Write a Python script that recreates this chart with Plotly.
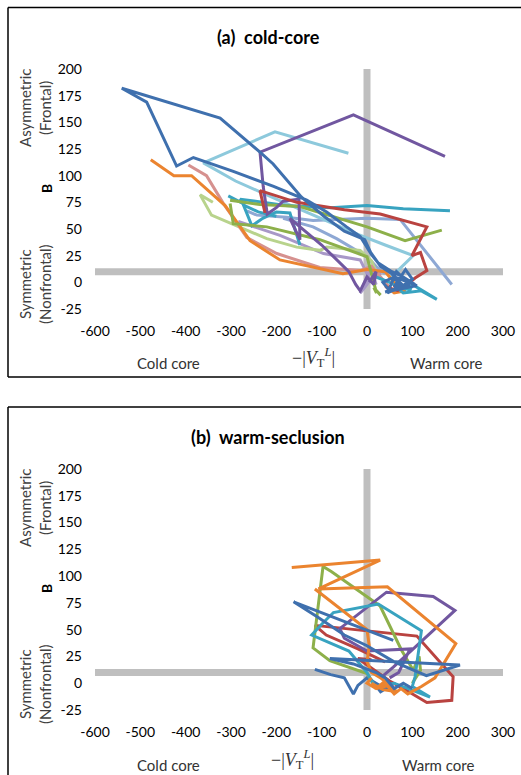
import plotly.graph_objects as go

OFF = 0  # body margin is removed in the page (see write_html below)
W, H = 521 - 2 * OFF, 775 - 2 * OFF

# ---------------- data: panel (a) cold-core ----------------
A_BLUE_X = [106, 80, 55, 40, 25, 10, -15, -45, -89, -133, -206, -295, -383, -420, -486, -541,
            -324, -236, -207, -145, -95, -50, -5, 8, 30, 55, 75, 50, 35, 60, 80, 45, 65, 90,
            70, 100, 85, 60, 95, 40, 110, 55]
A_BLUE_Y = [-2, 5, 10, 14, 18, 26, 43, 52, 66, 77, 90, 104, 117, 109, 169, 182,
            154, 122, 111, 80, 62, 48, 40, 28, 15, 8, -5, -8, 0, 5, -3, -10, 10, 0,
            -6, 3, 12, -4, -2, -9, -3, 6]
A_PURPLE_X = [172, -30, -236, -229, -220, -200, -185, -150, -148, -170, -100, -40, -25, -15, 0, 15, 20, 5]
A_PURPLE_Y = [118, 157, 122, 90, 64, 70, 76, 78, 40, 60, 35, 10, -2, -8, 5, -2, 10, 0]
A_LTBLUE_X = [-41, -203, -361, -290, -200, -100, -20, 40, 102, 68, 50]
A_LTBLUE_Y = [121, 141, 112, 95, 78, 60, 45, 35, 25, 11, 5]
A_RED_X = [-225, -236, -155, -50, 29, 132, 99, 118, 132, 106, 80, 60, 70, 40]
A_RED_Y = [65, 86, 75, 68, 64, 52, 25, 28, 11, 4, -5, -3, -8, -4]
A_TEAL1_X = [183, 80, 0, -80, -180, -280, -270, -240, -200]
A_TEAL1_Y = [67, 69, 72, 70, 72, 78, 72, 66, 62]
A_TEAL2_X = [-306, -274, -254, -230, -200, -170, -148]
A_TEAL2_Y = [81, 74, 53, 60, 66, 65, 35]
A_TEAL3_X = [20, 50, 70, 95, 100, 154, 120, 80, 60]
A_TEAL3_Y = [5, 0, -5, -7, -2, -16, -8, -10, -3]
A_GREEN1_X = [-302, -236, -148, 0, 84, 165]
A_GREEN1_Y = [77, 73, 71, 52, 39, 49]
A_GREEN2_X = [-302, -295, -221, -104, 0, 21, 15, 30]
A_GREEN2_Y = [74, 55, 52, 40, 24, -10, -5, -12]
A_ORANGE_X = [-477, -426, -387, -313, -258, -192, -53, 0, 40, 70, 85, 60, 40]
A_ORANGE_Y = [115, 100, 100, 72, 39, 21, 8, 12, 10, -5, -8, -10, -3]
A_PINK_X = [-394, -354, -317, -265, -199, -104, -15, 10, 30, 50, 45]
A_PINK_Y = [110, 100, 74, 42, 27, 14, 11, 15, 5, -5, -8]
A_LTGREEN_X = [-340, -368, -343, -299, -221, -155, -104, -89, -15, 10, 20]
A_LTGREEN_Y = [75, 82, 63, 55, 41, 33, 30, 33, 30, 20, 10]
A_LAVENDER_X = [-284, -192, -96, -15, 7, -15, 0, 20, 10, 30, -5, 15]
A_LAVENDER_Y = [57, 44, 27, 21, 2, -10, 5, -2, 12, 8, 0, 18]
A_PERI1_X = [-265, -243, -177, -119, 0, 73, 187]
A_PERI1_Y = [67, 63, 61, 58, 60, 59, -2]
A_PERI2_X = [-185, -119, -67, 0, 20, 40]
A_PERI2_Y = [60, 52, 41, 24, 15, 8]

# ---------------- data: panel (b) warm-seclusion ----------------
B_ORANGE1_X = [-166, 29, -107, 45, 196, 150, 120, 90, 75, 60, 40, 20, 0, 10]
B_ORANGE1_Y = [108, 115, 88, 90, 37, 5, -3, -10, -5, -10, 0, -5, 0, 5]
B_ORANGE2_X = [-115, 0, 5, 0, 10, 30, 50, 20, 40, 66, 35, 10]
B_ORANGE2_Y = [88, 50, 35, 20, 10, 5, -2, -5, 2, -8, -6, 0]
B_GREEN_X = [20, 0, -82, -119, -97, -78, 29, 76, 102, 115, 118, 100]
B_GREEN_Y = [-5, 9, 21, 33, 109, 104, 72, 31, 12, 25, 12, 0]
B_PURPLE_X = [30, 58, 102, 194, 146, 43, -60, -50, 0, 95, 70, 50]
B_PURPLE_Y = [5, 15, 32, 68, 81, 85, 51, 42, 30, 32, 10, 5]
B_RED_X = [40, -20, -90, -115, 110, 190, 187, 132, 80, 50, -20, 10]
B_RED_Y = [20, 32, 45, 54, 44, 6, -16, -18, -5, 2, 23, 22]
B_TEAL_X = [20, 0, -40, -122, -100, -74, 25, 120, 106, 100, 139, 60, 20]
B_TEAL_Y = [-5, 10, 30, 45, 55, 66, 74, 49, 6, -3, -13, 0, -3]
B_BLUE1_X = [58, -162, -110, -50, 0, 60, 131, 205, -82, -30, 20, 40, 60, 80, 100]
B_BLUE1_Y = [40, 76, 62, 45, 35, 20, 7, 17, 23, 18, 10, 5, -5, 0, -5]
B_BLUE2_X = [-115, -80, -50, -40, -30, -20, 0, 20, 40, 60, 30, 10]
B_BLUE2_Y = [13, 8, 5, -3, -10, -2, 5, 0, -5, 0, -8, 3]

X_TICKS = [-600, -500, -400, -300, -200, -100, 0, 100, 200, 300]
X_TICK_TEXT = ["-600", "-500", "-400", "-300", "-200", "-100", "0", "100", "200", "300"]
Y_TICKS = [-25, 0, 25, 50, 75, 100, 125, 150, 175, 200]
Y_TICK_TEXT = ["-25", "0", "25", "50", "75", "100", "125", "150", "175", "200"]
X_RANGE = [-600, 300]
Y_RANGE = [-25, 200]
REF_X = 0    # grey vertical divider
REF_Y = 10   # grey horizontal divider

C = {
    "blue": "#3F70AE", "red": "#B94340", "green": "#8DB04A", "purple": "#7157A0",
    "teal": "#38A3C0", "orange": "#EB842F", "ltblue": "#8DC9DC", "pink": "#D6918F",
    "ltgreen": "#B8D38C", "lavender": "#A898C8", "peri": "#8EA8D4",
}

A_TRACKS = [
    (A_PERI1_X, A_PERI1_Y, "peri"), (A_PERI2_X, A_PERI2_Y, "peri"),
    (A_LAVENDER_X, A_LAVENDER_Y, "lavender"), (A_LTGREEN_X, A_LTGREEN_Y, "ltgreen"),
    (A_PINK_X, A_PINK_Y, "pink"), (A_LTBLUE_X, A_LTBLUE_Y, "ltblue"),
    (A_ORANGE_X, A_ORANGE_Y, "orange"), (A_TEAL1_X, A_TEAL1_Y, "teal"),
    (A_TEAL2_X, A_TEAL2_Y, "teal"), (A_TEAL3_X, A_TEAL3_Y, "teal"),
    (A_GREEN1_X, A_GREEN1_Y, "green"), (A_GREEN2_X, A_GREEN2_Y, "green"),
    (A_PURPLE_X, A_PURPLE_Y, "purple"), (A_RED_X, A_RED_Y, "red"),
    (A_BLUE_X, A_BLUE_Y, "blue"),
]
B_TRACKS = [
    (B_BLUE2_X, B_BLUE2_Y, "blue"), (B_RED_X, B_RED_Y, "red"),
    (B_GREEN_X, B_GREEN_Y, "green"), (B_PURPLE_X, B_PURPLE_Y, "purple"),
    (B_TEAL_X, B_TEAL_Y, "teal"), (B_ORANGE2_X, B_ORANGE2_Y, "orange"),
    (B_ORANGE1_X, B_ORANGE1_Y, "orange"), (B_BLUE1_X, B_BLUE1_Y, "blue"),
]

fig = go.Figure()
for xs, ys, c in A_TRACKS:
    fig.add_trace(go.Scatter(x=xs, y=ys, mode="lines", xaxis="x", yaxis="y",
                             line=dict(color=C[c], width=3), showlegend=False, hoverinfo="skip"))
for xs, ys, c in B_TRACKS:
    fig.add_trace(go.Scatter(x=xs, y=ys, mode="lines", xaxis="x2", yaxis="y2",
                             line=dict(color=C[c], width=3), showlegend=False, hoverinfo="skip"))

# convert window pixel positions to paper fractions
def px(x):
    return (x - OFF) / W

def py(y):
    return 1 - (y - OFF) / H

FONT = "Lato, 'Open Sans', sans-serif"
ax_common = dict(showgrid=False, zeroline=False, showline=False, ticks="", automargin=False,
                 ticklabeloverflow="allow",
                 tickfont=dict(family=FONT, size=14, color="#000"), fixedrange=True)

fig.update_layout(
    width=W, height=H, autosize=False,
    margin=dict(l=0, r=0, t=0, b=0, pad=0),
    paper_bgcolor="white", plot_bgcolor="white",
    xaxis=dict(domain=[px(95), px(503)], range=X_RANGE, tickvals=X_TICKS, ticktext=X_TICK_TEXT,
               anchor="y", ticklabelstandoff=12, **ax_common),
    yaxis=dict(domain=[py(309), py(69)], range=Y_RANGE, tickvals=Y_TICKS, ticktext=Y_TICK_TEXT,
               anchor="x", ticklabelstandoff=12, **ax_common),
    xaxis2=dict(domain=[px(95), px(503)], range=X_RANGE, tickvals=X_TICKS, ticktext=X_TICK_TEXT,
                anchor="y2", ticklabelstandoff=12, **ax_common),
    yaxis2=dict(domain=[py(710), py(469)], range=Y_RANGE, tickvals=Y_TICKS, ticktext=Y_TICK_TEXT,
                anchor="x2", ticklabelstandoff=12, **ax_common),
)

shapes = []
GREY = "#BFBFBF"
for xr, yr in (("x", "y"), ("x2", "y2")):
    shapes.append(dict(type="line", xref=xr, yref=yr, x0=REF_X, x1=REF_X,
                       y0=Y_RANGE[0], y1=Y_RANGE[1], line=dict(color=GREY, width=7), layer="below"))
    shapes.append(dict(type="line", xref=xr, yref=yr, x0=X_RANGE[0], x1=X_RANGE[1],
                       y0=REF_Y, y1=REF_Y, line=dict(color=GREY, width=7), layer="below"))

# panel frames (left, top, bottom edges; right edge lies outside the picture)
def frame_line(x0, y0, x1, y1):
    shapes.append(dict(type="line", xref="paper", yref="paper", x0=px(x0), y0=py(y0),
                       x1=px(x1), y1=py(y1), line=dict(color="#000", width=1.5)))
frame_line(8, 7.5, 521, 7.5)
frame_line(8, 7.5, 8, 377)
frame_line(8, 377, 521, 377)
frame_line(8, 407, 521, 407)
frame_line(8, 407, 8, 775)
fig.update_layout(shapes=shapes)

ann = []
def text(x, y, s, size=15, bold=False, angle=0, family=FONT, color="#1a1a1a"):
    ann.append(dict(xref="paper", yref="paper", x=px(x), y=py(y), text=("<b>%s</b>" % s) if bold else s,
                    showarrow=False, textangle=angle, xanchor="center", yanchor="middle",
                    font=dict(family=family, size=size, color=color)))

for off, title in ((0, "(a)  cold-core"), (400, "(b)  warm-seclusion")):
    text(268, 37 + off, title, size=18, bold=True, color="#000")
    text(35, 108 + off, "Asymmetric<br>(Frontal)", size=15, angle=-90, color="#404040")
    text(46, 189 + off, "B", size=14, bold=True, angle=-90, color="#000")
    text(35, 284 + off, "Symmetric<br>(Nonfrontal)", size=15, angle=-90, color="#404040")
for off, xl, wx in ((0, 313, 446), (402, 292, 438)):
    text(168, 363 + off, "Cold core", size=15, color="#333")
    text(wx, 363 + off, "Warm core", size=15, color="#333")
    text(xl, 357 + off, "\u2212|<i>V</i><sub>T</sub><sup><i>L</i></sup>|", size=18,
         family="'Liberation Serif', serif", color="#333")
fig.update_layout(annotations=ann)

fig.write_html("out.html", config={"displayModeBar": False},
               post_script="document.body.style.margin='0';document.body.style.overflow='hidden';")
